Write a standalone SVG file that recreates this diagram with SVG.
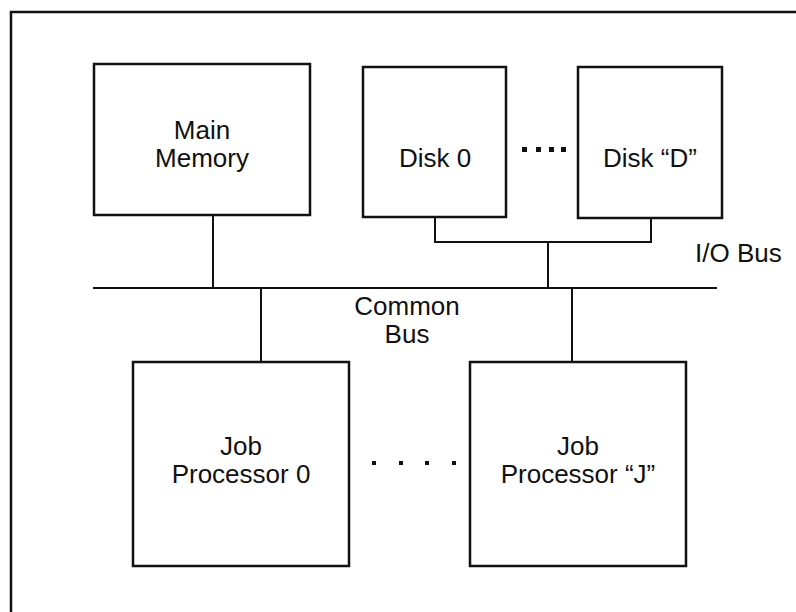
<svg xmlns="http://www.w3.org/2000/svg" width="796" height="612" viewBox="0 0 796 612">
  <style>
    .box { fill: #fff; stroke: #111; stroke-width: 2.5; }
    .wire { fill: none; stroke: #111; stroke-width: 2; }
    .frame { fill: none; stroke: #111; stroke-width: 2.5; }
    .lbl { font-family: "Liberation Sans", Arial, sans-serif; font-size: 26px; fill: #111; text-anchor: middle; }
    .dot { fill: #111; }
  </style>
  <rect width="796" height="612" fill="#fff"/>
  <!-- enclosing frame, only top and left edges fall inside the page -->
  <path class="frame" d="M11,620 V12 H800"/>

  <g id="connectors">
    <!-- common bus -->
    <line class="wire" x1="93" y1="288" x2="717" y2="288"/>
    <!-- main memory drop -->
    <line class="wire" x1="213" y1="215" x2="213" y2="288"/>
    <!-- I/O bus bracket -->
    <path class="wire" d="M435,217 V242 H651 V218"/>
    <line class="wire" x1="548" y1="242" x2="548" y2="288"/>
    <!-- processor drops -->
    <line class="wire" x1="261" y1="288" x2="261" y2="362"/>
    <line class="wire" x1="572" y1="288" x2="572" y2="362"/>
  </g>

  <g id="main-memory">
    <rect class="box" x="94" y="64" width="216" height="151"/>
    <text class="lbl" x="202" y="139">Main</text>
    <text class="lbl" x="202" y="167">Memory</text>
  </g>

  <g id="disk-0">
    <rect class="box" x="363" y="67" width="143" height="150"/>
    <text class="lbl" x="435" y="167">Disk 0</text>
  </g>

  <g id="disk-d">
    <rect class="box" x="578" y="67" width="144" height="151"/>
    <text class="lbl" x="650" y="167">Disk “D”</text>
  </g>

  <g id="disk-ellipsis">
    <rect class="dot" x="522" y="147" width="5" height="5"/>
    <rect class="dot" x="536" y="147" width="5" height="5"/>
    <rect class="dot" x="549" y="147" width="5" height="5"/>
    <rect class="dot" x="561" y="147" width="5" height="5"/>
  </g>

  <g id="io-bus-label">
    <text class="lbl" x="695" y="262" style="text-anchor:start">I/O Bus</text>
  </g>

  <g id="common-bus-label">
    <text class="lbl" x="407" y="315">Common</text>
    <text class="lbl" x="407" y="343">Bus</text>
  </g>

  <g id="job-processor-0">
    <rect class="box" x="133" y="362" width="216" height="204"/>
    <text class="lbl" x="241" y="455">Job</text>
    <text class="lbl" x="241" y="483">Processor 0</text>
  </g>

  <g id="job-processor-j">
    <rect class="box" x="470" y="362" width="216" height="204"/>
    <text class="lbl" x="578" y="455">Job</text>
    <text class="lbl" x="578" y="483">Processor “J”</text>
  </g>

  <g id="processor-ellipsis">
    <rect class="dot" x="372" y="461" width="4" height="4"/>
    <rect class="dot" x="399" y="461" width="4" height="4"/>
    <rect class="dot" x="425" y="461" width="4" height="4"/>
    <rect class="dot" x="452" y="461" width="4" height="4"/>
  </g>
</svg>
